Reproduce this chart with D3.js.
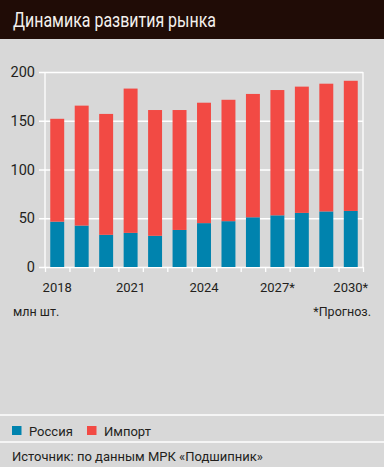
<!DOCTYPE html>
<html>
<head>
<meta charset="utf-8">
<script src="https://cdn.jsdelivr.net/npm/d3@7"></script>
<style>
  body { margin: 0; background: #d8d8d8; }
  svg { display: block; font-family: Roboto, "DejaVu Sans", sans-serif; }
</style>
</head>
<body>
<div class="chart"></div>
<script>
// рынок подшипников, млн шт.
var years = [2018, 2019, 2020, 2021, 2022, 2023, 2024, 2025, 2026, 2027, 2028, 2029, 2030];
var russia = [46.5, 42.5, 33, 35, 32, 38, 45, 47, 51, 53, 55.5, 57, 57.5];
var imports = [105.5, 123, 124, 148, 129, 123, 123.5, 124.5, 126.5, 128.5, 129.5, 131, 133.5];
var xLabels = ["2018", "", "", "2021", "", "", "2024", "", "", "2027*", "", "", "2030*"];
var yTicks = [0, 50, 100, 150, 200];

var W = 384, H = 467;
var margin = { top: 72, left: 45, right: 21, bottom: 200 },
    width = W - margin.left - margin.right,
    height = 267 - margin.top;

var colRussia = "#0083ae", colImport = "#f24a44", grid = "#ffffff", ink = "#231f1c";

var svg = d3.select(".chart").append("svg")
    .attr("width", W)
    .attr("height", H);

svg.append("rect").attr("width", W).attr("height", H).attr("fill", "#d8d8d8");

// шапка
svg.append("rect").attr("width", W).attr("height", 39).attr("fill", "#200c06");
svg.append("text")
    .attr("x", 13).attr("y", 27)
    .attr("fill", "#f4f1ee")
    .attr("font-size", 20)
    .attr("textLength", 203)
    .attr("lengthAdjust", "spacingAndGlyphs")
    .text("Динамика развития рынка");

var g = svg.append("g")
    .attr("transform", "translate(" + margin.left + "," + margin.top + ")");

var x = d3.scaleBand()
    .domain(years)
    .range([0, width])
    .paddingInner(0.43)
    .paddingOuter(0.215);

var xEdge = d3.scaleLinear().domain([0, years.length]).range([0, width]);

var y = d3.scaleLinear()
    .domain([0, 200])
    .range([height, 0]);

// сетка и подписи по Y
var yAxis = d3.axisLeft(y)
    .tickValues(yTicks)
    .tickSize(-(width + 6))
    .tickPadding(4);

var gy = g.append("g")
    .attr("transform", "translate(-6,0)")
    .call(yAxis);
gy.select(".domain").remove();
gy.selectAll("line").attr("stroke", grid).attr("stroke-width", 1.3);
gy.selectAll("text").attr("fill", ink).attr("font-size", 14.5).attr("font-family", "Roboto");

// рамка слева/справа и засечки снизу
var xTicksAxis = d3.axisBottom(xEdge)
    .tickValues(d3.range(years.length + 1))
    .tickFormat("")
    .tickSize(5);
var gt = g.append("g")
    .attr("transform", "translate(0," + height + ")")
    .call(xTicksAxis);
gt.select(".domain").remove();
gt.selectAll("line").attr("stroke", grid).attr("stroke-width", 1.3);

g.append("line").attr("x1", 0).attr("x2", 0).attr("y1", 0).attr("y2", height)
    .attr("stroke", grid).attr("stroke-width", 1.3);
g.append("line").attr("x1", width).attr("x2", width).attr("y1", 0).attr("y2", height)
    .attr("stroke", grid).attr("stroke-width", 1.3);

// столбцы
var rows = years.map(function(d, i) {
    return { year: d, russia: russia[i], imp: imports[i] };
});

g.selectAll(".bar-ru")
    .data(rows)
    .enter().append("rect")
    .attr("class", "bar-ru")
    .attr("x", function(d) { return x(d.year); })
    .attr("width", x.bandwidth())
    .attr("y", function(d) { return y(d.russia); })
    .attr("height", function(d) { return height - y(d.russia); })
    .attr("fill", colRussia);

g.selectAll(".bar-imp")
    .data(rows)
    .enter().append("rect")
    .attr("class", "bar-imp")
    .attr("x", function(d) { return x(d.year); })
    .attr("width", x.bandwidth())
    .attr("y", function(d) { return y(d.russia + d.imp); })
    .attr("height", function(d) { return y(d.russia) - y(d.russia + d.imp); })
    .attr("fill", colImport);

// подписи лет
var xAxis = d3.axisBottom(x)
    .tickFormat(function(d, i) { return xLabels[i]; })
    .tickSize(0)
    .tickPadding(16);
var gx = g.append("g")
    .attr("transform", "translate(0," + height + ")")
    .call(xAxis);
gx.select(".domain").remove();
gx.selectAll("text").attr("fill", ink).attr("font-size", 13).attr("font-family", "Roboto");

// единицы и примечание
svg.append("text")
    .attr("x", 13).attr("y", 316)
    .attr("fill", ink).attr("font-size", 12.5)
    .text("млн шт.");
svg.append("text")
    .attr("x", 371).attr("y", 316)
    .attr("text-anchor", "end")
    .attr("fill", ink).attr("font-size", 12.5)
    .text("*Прогноз.");

// легенда
svg.append("line").attr("x1", 0).attr("x2", W).attr("y1", 415).attr("y2", 415)
    .attr("stroke", grid).attr("stroke-width", 1.3);
svg.append("line").attr("x1", 0).attr("x2", W).attr("y1", 442).attr("y2", 442)
    .attr("stroke", grid).attr("stroke-width", 1.3);

var legend = [
    { name: "Россия", color: colRussia, x: 12 },
    { name: "Импорт", color: colImport, x: 87 }
];
var lg = svg.selectAll(".legend")
    .data(legend)
    .enter().append("g")
    .attr("class", "legend")
    .attr("transform", function(d) { return "translate(" + d.x + ",426)"; });
lg.append("rect").attr("width", 9.5).attr("height", 9).attr("fill", function(d) { return d.color; });
lg.append("text")
    .attr("x", 17).attr("y", 9.5)
    .attr("fill", ink).attr("font-size", 13)
    .text(function(d) { return d.name; });

svg.append("text")
    .attr("x", 12).attr("y", 461)
    .attr("fill", ink).attr("font-size", 13)
    .text("Источник: по данным МРК «Подшипник»");
</script>
</body>
</html>
